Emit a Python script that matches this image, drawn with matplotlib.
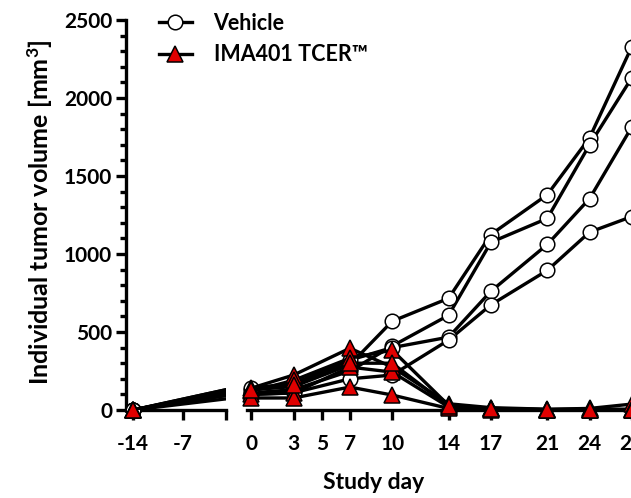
import matplotlib
matplotlib.use("Agg")
import matplotlib.pyplot as plt
from matplotlib.ticker import MultipleLocator
from matplotlib.lines import Line2D

plt.rcParams['font.family'] = ['Lato', 'DejaVu Sans']
plt.rcParams['font.weight'] = 'bold'
plt.rcParams['axes.unicode_minus'] = False
plt.rcParams['mathtext.fontset'] = 'custom'
plt.rcParams['mathtext.rm'] = 'Lato:bold'
plt.rcParams['mathtext.default'] = 'rm'

# ---- data ----
days = [-14, 0, 3, 7, 10, 14, 17, 21, 24, 27]

vehicle_1 = [0, 130, 150, 290, 569, 716, 1125, 1380, 1745, 2330]
vehicle_2 = [0, 110, 130, 250, 410, 607, 1075, 1228, 1700, 2130]
vehicle_3 = [0, 140, 170, 320, 400, 467, 761, 1061, 1355, 1815]
vehicle_4 = [0, 100, 110, 200, 224, 448, 674, 895, 1140, 1240]
vehicle = [vehicle_1, vehicle_2, vehicle_3, vehicle_4]

tcer_1 = [0, 140, 224, 396, 275, 40, 15, 5, 10, 38]
tcer_2 = [0, 120, 190, 332, 384, 30, 10, 3, 5, 5]
tcer_3 = [0, 100, 109, 275, 243, 20, 5, 0, 0, 0]
tcer_4 = [0, 77, 77, 147, 96, 10, 0, 0, 0, 0]
tcer_5 = [0, 130, 160, 300, 300, 25, 8, 2, 3, 3]
tcer = [tcer_1, tcer_2, tcer_3, tcer_4, tcer_5]

ticks_left = [-14, -7, -1]
ticklabels_left = ['-14', '-7', '']
ticks_right = [0, 3, 5, 7, 10, 14, 17, 21, 24, 27]
ticklabels_right = ['0', '3', '5', '7', '10', '14', '17', '21', '24', '27']

# ---- layout ----
W, H = 631, 498
fig = plt.figure(figsize=(W / 100, H / 100), dpi=100)

def px_axes(x0, x1, y_top, y_bot):
    return [x0 / W, (H - y_bot) / H, (x1 - x0) / W, (y_bot - y_top) / H]

ax1 = fig.add_axes(px_axes(126, 226, 20, 410))
ax2 = fig.add_axes(px_axes(247, 653, 20, 410), sharey=ax1)

lw = 2.4
ms = 10.5
mew = 1.1
fs = 15

for ax, lim in ((ax1, (-15, -1)), (ax2, (-0.3, 28.5))):
    ax.set_xlim(*lim)
    ax.set_ylim(0, 2500)
    for s in ('top', 'right'):
        ax.spines[s].set_visible(False)
    ax.spines['bottom'].set_linewidth(2.4)
    ax.spines['left'].set_linewidth(2.4)
    ax.tick_params(axis='x', direction='out', length=7, width=2.4, labelsize=fs, pad=10)
    ax.patch.set_alpha(0)

    vis = [i for i, d in enumerate(days) if lim[0] <= d <= lim[1]]
    for v in vehicle:
        ax.plot(days, v, '-', color='black', lw=lw, zorder=3, clip_on=True)
    for v in vehicle:
        ax.plot([days[i] for i in vis], [v[i] for i in vis], linestyle='none', marker='o',
                ms=ms, mfc='white', mec='black', mew=mew, zorder=4, clip_on=False)
    for t in tcer:
        ax.plot(days, t, '-', color='black', lw=lw, zorder=5, clip_on=True)
    for t in tcer:
        ax.plot([days[i] for i in vis], [t[i] for i in vis], linestyle='none', marker='^',
                ms=ms + 1, mfc='#e00000', mec='black', mew=mew, zorder=6, clip_on=False)

ax1.set_xticks(ticks_left)
ax1.set_xticklabels(ticklabels_left)
ax2.set_xticks(ticks_right)
ax2.set_xticklabels(ticklabels_right)

ax1.yaxis.set_major_locator(MultipleLocator(500))
ax1.yaxis.set_minor_locator(MultipleLocator(100))
ax1.tick_params(axis='y', which='major', direction='out', length=7, width=2.4, labelsize=fs, pad=3)
ax1.tick_params(axis='y', which='minor', direction='out', length=4, width=2.4)
ax2.spines['left'].set_visible(False)
ax2.tick_params(axis='y', which='both', left=False, labelleft=False)

fig.text(40 / W, 1 - 212 / H, 'Individual tumor volume [mm$^{3}$]', rotation=90,
         ha='center', va='center', fontsize=18, fontweight='bold')
fig.text(374 / W, 1 - 482 / H, 'Study day', ha='center', va='center',
         fontsize=16.5, fontweight='bold')

handles = [
    Line2D([], [], color='black', lw=lw, marker='o', ms=ms, mfc='white', mec='black', mew=mew),
    Line2D([], [], color='black', lw=lw, marker='^', ms=ms + 1, mfc='#e00000', mec='black', mew=mew),
]
fig.legend(handles, ['Vehicle', 'IMA401 TCER\u2122'], loc='upper left',
           bbox_to_anchor=(150 / W, 1 - 4 / H), frameon=False, fontsize=15.5,
           handlelength=1.55, handletextpad=1.0, labelspacing=0.5, borderaxespad=0)

fig.savefig('out.png', dpi=100)
